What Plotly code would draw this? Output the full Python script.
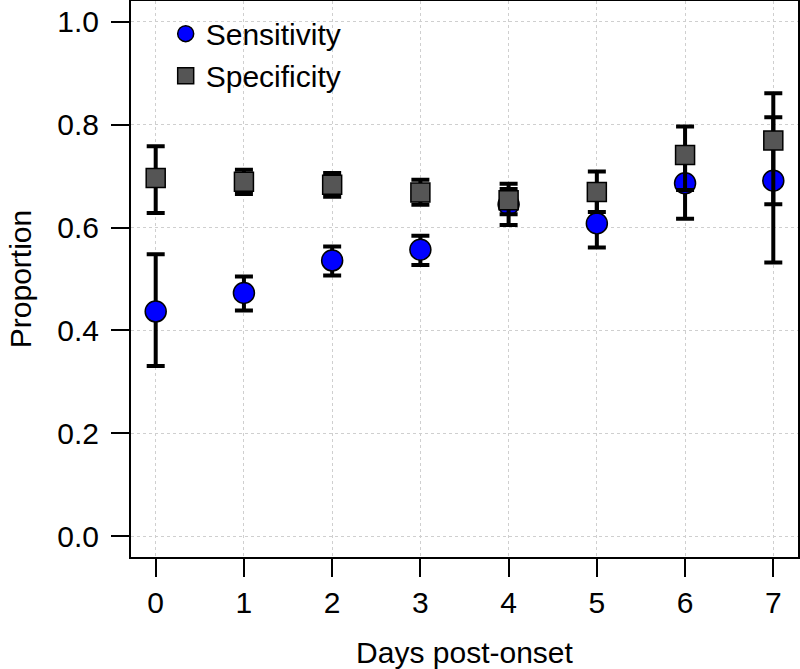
import plotly.graph_objects as go

days = [0, 1, 2, 3, 4, 5, 6, 7]
sens = [0.437, 0.473, 0.536, 0.557, 0.645, 0.608, 0.686, 0.691]
sens_lo = [0.331, 0.439, 0.507, 0.527, 0.605, 0.561, 0.617, 0.532]
sens_hi = [0.548, 0.505, 0.563, 0.584, 0.675, 0.655, 0.750, 0.814]
spec = [0.696, 0.689, 0.683, 0.668, 0.653, 0.669, 0.741, 0.769]
spec_lo = [0.628, 0.665, 0.660, 0.644, 0.626, 0.630, 0.673, 0.645]
spec_hi = [0.758, 0.712, 0.706, 0.693, 0.685, 0.709, 0.796, 0.861]
x_ticks = [0, 1, 2, 3, 4, 5, 6, 7]
y_ticks = [0.0, 0.2, 0.4, 0.6, 0.8, 1.0]
y_ticklabels = ["0.0", "0.2", "0.4", "0.6", "0.8", "1.0"]

FONT = "Liberation Sans, Arial, Helvetica, sans-serif"
FS = 30


def err(vals, lo, hi):
    return dict(
        type="data", symmetric=False,
        array=[h - v for v, h in zip(vals, hi)],
        arrayminus=[v - l for v, l in zip(vals, lo)],
        color="black", thickness=4, width=9,
    )


fig = go.Figure()
fig.add_trace(go.Scatter(
    x=days, y=sens, mode="markers", name="Sensitivity",
    marker=dict(symbol="circle", size=21, color="#0000FF",
                line=dict(color="black", width=1.5)),
    error_y=err(sens, sens_lo, sens_hi),
))
fig.add_trace(go.Scatter(
    x=days, y=spec, mode="markers", name="Specificity",
    marker=dict(symbol="square", size=19, color="#555555",
                line=dict(color="black", width=1.5)),
    error_y=err(spec, spec_lo, spec_hi),
))

axis_common = dict(
    showline=True, linecolor="black", linewidth=2, mirror=True,
    ticks="outside", ticklen=18, tickwidth=1.5, tickcolor="black",
    showgrid=True, gridcolor="#cfcfcf", griddash="dot", gridwidth=1,
    zeroline=False, automargin=False,
    tickfont=dict(family=FONT, size=FS, color="black"),
)

fig.update_layout(
    width=800, height=669,
    margin=dict(l=131, r=2, t=1, b=112),
    paper_bgcolor="white", plot_bgcolor="white",
    font=dict(family=FONT, size=FS, color="black"),
    showlegend=True,
    legend=dict(
        x=0.052, y=0.988, xanchor="left", yanchor="top",
        bgcolor="rgba(0,0,0,0)", borderwidth=0,
        font=dict(family=FONT, size=FS, color="black"),
        itemsizing="trace", tracegroupgap=0,
    ),
    xaxis=dict(
        range=[-0.28, 7.28], tickvals=x_ticks,
        title=dict(text="Days post-onset", font=dict(family=FONT, size=FS), standoff=31),
        **axis_common,
    ),
    yaxis=dict(
        range=[-0.04, 1.04], tickvals=y_ticks, ticktext=y_ticklabels,
        ticklabelstandoff=6,
        title=dict(text="Proportion", font=dict(family=FONT, size=FS), standoff=17),
        **axis_common,
    ),
)

fig.write_html(
    "out.html",
    config={"displayModeBar": False},
    post_script="document.body.style.margin='0px';document.body.style.overflow='hidden';",
)
